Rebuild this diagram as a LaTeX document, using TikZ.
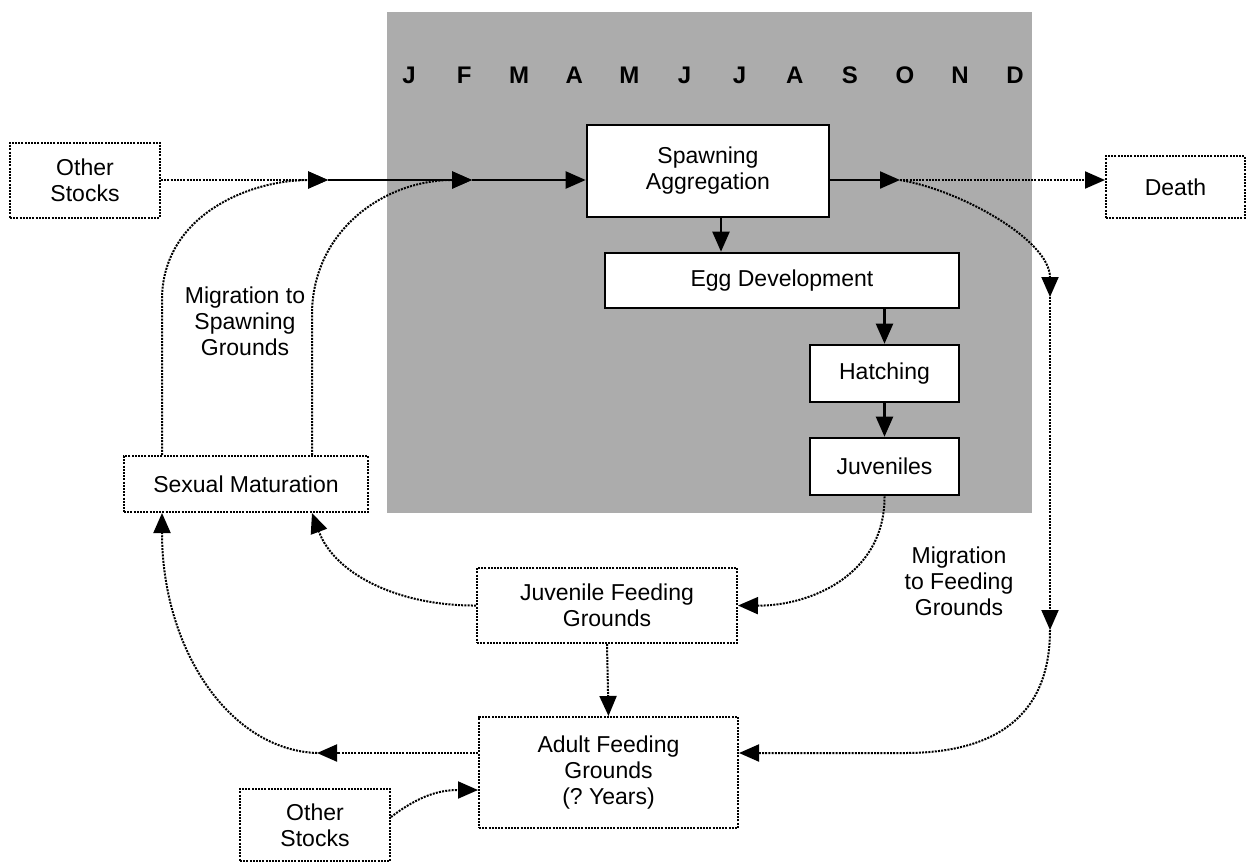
\documentclass[tikz,border=0pt]{standalone}
\usepackage{fontspec}
\setmainfont{Liberation Sans}
\usetikzlibrary{arrows.meta}
\definecolor{seasonshade}{RGB}{172,172,172}
\begin{document}
\frenchspacing
\begin{tikzpicture}[x=1pt,y=-1pt,
  every node/.style={font=\fontsize{23}{26}\selectfont, align=center, inner sep=0pt},
  solidbox/.style={draw, line width=2.6pt, fill=white},
  dotbox/.style={draw, line width=2pt, dash pattern=on 2pt off 1.2pt, fill=white},
  tipped/.style={-{Triangle[length=20pt,width=17pt]}},
  flow/.style={tipped, line width=2.2pt},
  dotflow/.style={tipped, line width=2pt, dash pattern=on 2pt off 1.2pt},
  month/.style={font=\fontsize{24}{28}\selectfont\bfseries}
]
\useasboundingbox (0,0) rectangle (1253,863);

% spawning season band with the months
\fill[seasonshade] (387,12) rectangle (1032,513);
\foreach \m [count=\i from 0] in {J,F,M,A,M,J,J,A,S,O,N,D}
  \node[month] (m\i) at ({409+55.1*\i},75) {\m};

% stages
\node[dotbox, minimum width=150pt, minimum height=75pt] (os1) at (85,180) {Other\\Stocks};
\node[solidbox, minimum width=242pt, minimum height=92pt] (spawn) at (708,171) {Spawning\\Aggregation};
\node[dotbox, minimum width=139pt, minimum height=62pt] (death) at (1175.5,187) {Death};
\node[solidbox, minimum width=354pt, minimum height=55pt] (egg) at (782,280.5) {Egg Development};
\node[solidbox, minimum width=149pt, minimum height=57pt] (hatch) at (884.5,373.5) {Hatching};
\node[solidbox, minimum width=149pt, minimum height=57pt] (juv) at (884.5,466.5) {Juveniles};
\node[dotbox, minimum width=244pt, minimum height=56pt] (sexmat) at (246,484) {Sexual Maturation};
\node[dotbox, minimum width=260pt, minimum height=75pt] (jfg) at (607,605.5) {Juvenile Feeding\\Grounds};
\node[dotbox, minimum width=259pt, minimum height=111pt] (afg) at (608.5,772.5) {Adult Feeding\\Grounds\\(? Years)};
\node[dotbox, minimum width=150pt, minimum height=72pt] (os2) at (315,825) {Other\\Stocks};

% labels
\node (lspawn) at (245,321) {Migration to\\Spawning\\Grounds};
\node (lfeed) at (959,581) {Migration\\to Feeding\\Grounds};

% junctions
\coordinate (j1) at (328,180);
\coordinate (j2) at (472,180);
\coordinate (j3) at (900,180);
\coordinate (j4) at (1050,297);
\coordinate (j5) at (1050,630);
\coordinate (j6) at (317,753);

% migration into the spawning aggregation
\draw[dotflow] (os1.east) -- (j1);
\draw[flow] (j1) -- (j2);
\draw[flow] (j2) -- (spawn.west |- j2);
\draw[dotflow] (162,0 |- sexmat.north) -- (162,300) .. controls (162,215) and (250,180) .. (j1);
\draw[dotflow] (312,0 |- sexmat.north) -- (312,315) .. controls (312,230) and (385,180) .. (j2);

% after spawning
\draw[flow] (spawn.east |- j3) -- (j3);
\draw[dotflow] (j3) -- (death.west |- j3);
\draw[dotflow] (j3) .. controls (960,190) and (1050,240) .. (j4);
\draw[dotflow] (j4) -- (j5);
\draw[dotflow] (j5) .. controls (1050,720) and (990,753) .. (905,753) -- (afg.east |- j6);

% early life
\draw[flow] (721,0 |- spawn.south) -- (721,0 |- egg.north);
\draw[flow] (hatch.north |- egg.south) -- (hatch.north);
\draw[flow] (hatch.south) -- (juv.north);
\draw[dotflow] (juv.south) .. controls (885,575) and (810,606) .. (jfg.east);

% feeding grounds
\draw[dotflow] (jfg.west) .. controls (400,606) and (335,575) .. (312,0 |- sexmat.south);
\draw[dotflow] (jfg.south) -- (afg.north);
\draw[dotflow] (afg.west |- j6) -- (j6);
\draw[dotflow] (j6) .. controls (230,750) and (162,650) .. (162,0 |- sexmat.south);
\draw[dotflow] (os2.east |- 0,817) .. controls (420,795) and (440,790) .. (afg.west |- 0,790);
\end{tikzpicture}
\end{document}
